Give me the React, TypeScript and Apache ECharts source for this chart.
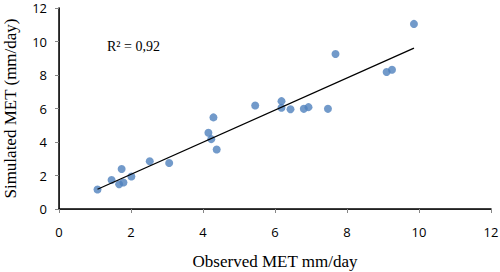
import React, { useEffect, useRef } from "react";
import * as echarts from "echarts";

const observed = [1.07, 1.46, 1.67, 1.79, 1.74, 2.01, 2.52, 3.06, 4.15, 4.23, 4.29, 4.38, 5.45, 6.18, 6.18, 6.43, 6.8, 6.93, 7.47, 7.68, 9.1, 9.25, 9.86];
const simulated = [1.16, 1.73, 1.48, 1.58, 2.39, 1.94, 2.85, 2.75, 4.55, 4.17, 5.47, 3.55, 6.18, 6.44, 6.04, 5.96, 5.98, 6.08, 5.98, 9.25, 8.18, 8.31, 11.05];
const trendX = [1.07, 9.86];
const trendY = [1.18, 9.61];
const xTicks = [0, 2, 4, 6, 8, 10, 12];
const yTicks = [0, 2, 4, 6, 8, 10, 12];
const rSquaredLabel = "R² = 0,92";
const xTitle = "Observed MET mm/day";
const yTitle = "Simulated MET (mm/day)";

const GRAY = "#868686";
const SERIF = "'Liberation Serif', 'Times New Roman', serif";
const SANS = "'Open Sans', 'Liberation Sans', sans-serif";

export default function App() {
  const ref = useRef<HTMLDivElement>(null);
  useEffect(() => {
    if (!ref.current) return;
    const chart = echarts.init(ref.current, null, { renderer: "svg" });
    const points = observed.map((x, i) => [x, simulated[i]]);
    const trend = trendX.map((x, i) => [x, trendY[i]]);
    const axisMin = xTicks[0];
    const axisMax = xTicks[xTicks.length - 1];
    const step = xTicks[1] - xTicks[0];
    const yMin = yTicks[0];
    const yMax = yTicks[yTicks.length - 1];
    const yStep = yTicks[1] - yTicks[0];
    chart.setOption({
      animation: false,
      grid: { left: 59, top: 8, right: 9, bottom: 63, containLabel: false, outerBoundsMode: "none" },
      xAxis: [
        {
          type: "value",
          min: axisMin,
          max: axisMax,
          interval: step,
          position: "bottom",
          splitLine: { show: false },
          axisLine: { show: true, lineStyle: { color: GRAY, width: 1 } },
          axisTick: { show: true, inside: false, length: 4, lineStyle: { color: GRAY } },
          axisLabel: { color: "#000", fontSize: 13, fontFamily: SANS, margin: 16 },
          name: xTitle,
          nameLocation: "middle",
          nameGap: 44,
          nameTextStyle: { color: "#000", fontSize: 17, fontFamily: SERIF },
        },
        {
          type: "value",
          min: axisMin,
          max: axisMax,
          interval: step,
          position: "top",
          splitLine: { show: false },
          axisLine: { show: true, lineStyle: { color: "#000", width: 1.5 } },
          axisTick: { show: false },
          axisLabel: { show: false },
        },
      ],
      yAxis: [
        {
          type: "value",
          min: yMin,
          max: yMax,
          interval: yStep,
          position: "left",
          splitLine: { show: false },
          axisLine: { show: true, lineStyle: { color: GRAY, width: 1 } },
          axisTick: { show: true, inside: false, length: 4, lineStyle: { color: GRAY } },
          axisLabel: { color: "#000", fontSize: 13, fontFamily: SANS, margin: 12 },
          name: yTitle,
          nameLocation: "middle",
          nameGap: 40,
          nameTextStyle: { color: "#000", fontSize: 17, fontFamily: SERIF },
        },
        {
          type: "value",
          min: yMin,
          max: yMax,
          interval: yStep,
          position: "right",
          splitLine: { show: false },
          axisLine: { show: true, lineStyle: { color: "#000", width: 1.5 } },
          axisTick: { show: false },
          axisLabel: { show: false },
        },
      ],
      series: [
        {
          type: "scatter",
          data: points,
          symbol: "circle",
          symbolSize: 8,
          itemStyle: { color: "#4F81BD" },
          z: 3,
        },
        {
          type: "line",
          data: trend,
          symbol: "none",
          lineStyle: { color: "#000", width: 1.3 },
          z: 4,
        },
      ],
      graphic: [
        {
          type: "text",
          left: 107,
          top: 39,
          style: { text: rSquaredLabel, fill: "#000", fontSize: 14, fontFamily: SERIF },
        },
      ],
    });
    return () => chart.dispose();
  }, []);
  return <div ref={ref} style={{ width: 500, height: 272, position: "absolute", left: 0, top: 0 }} />;
}
